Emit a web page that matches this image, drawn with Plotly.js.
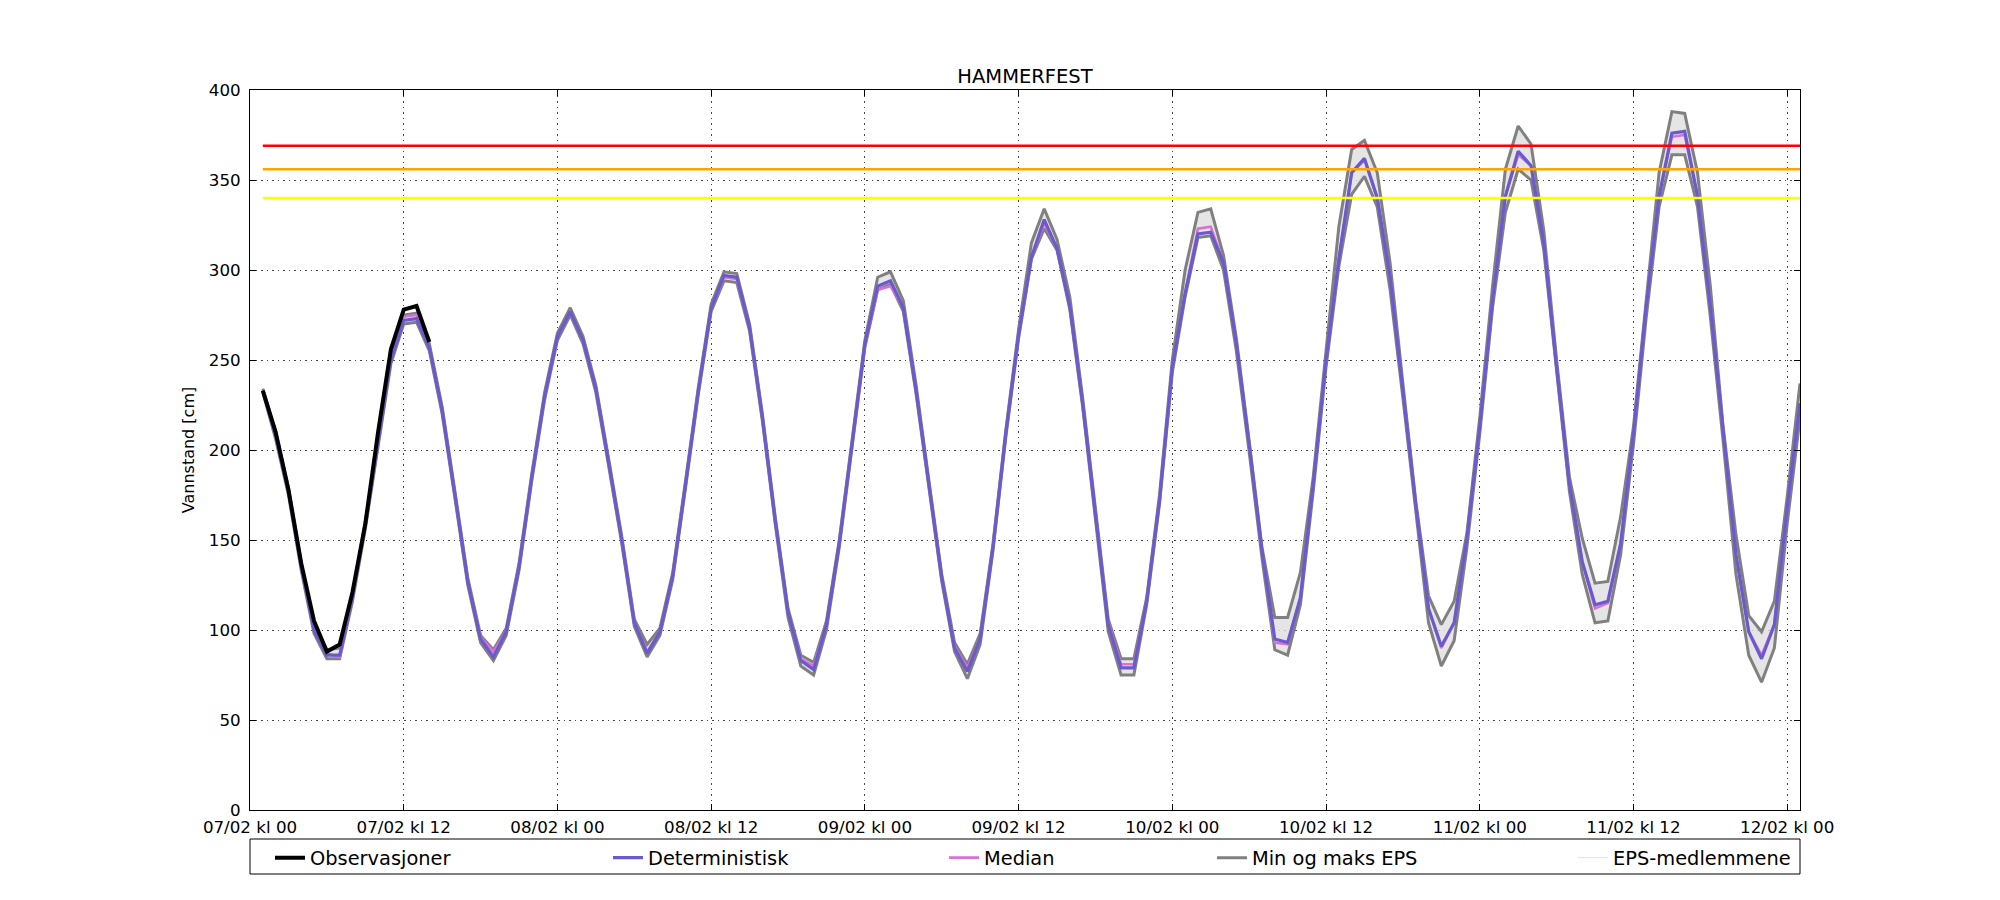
<!DOCTYPE html>
<html>
<head>
<meta charset="utf-8">
<script src="https://cdn.plot.ly/plotly-3.0.1.min.js"></script>
<style>
  html, body { margin: 0; padding: 0; background: #ffffff; }
  #chart { width: 2000px; height: 900px; }
</style>
</head>
<body>
<div id="chart"></div>
<script>
// ---- data (hours after 07/02 kl 00) ----
var tickHours  = [0, 12, 24, 36, 48, 60, 72, 84, 96, 108, 120];
var tickLabels = ["07/02 kl 00", "07/02 kl 12", "08/02 kl 00", "08/02 kl 12", "09/02 kl 00",
                  "09/02 kl 12", "10/02 kl 00", "10/02 kl 12", "11/02 kl 00", "11/02 kl 12", "12/02 kl 00"];

var obsHours = [1, 2, 3, 4, 5, 6, 7, 8, 9, 10, 11, 12, 13, 14];
var observasjoner = [233, 210, 178, 137, 105, 88, 92, 121, 159, 210, 256, 278, 280, 260];

var deterministisk = [
  233, 208, 177, 135, 100, 86, 86, 118, 158, 205, 250, 272, 273, 257, 222, 175, 127, 95, 85, 99,
  135, 185, 230, 263, 277, 261, 234, 193, 151, 104, 87, 99, 130, 181, 233, 279, 297, 296, 268, 218,
  161, 110, 83, 78, 103, 148, 203, 259, 291, 294, 279, 233, 181, 129, 90, 77, 95, 146, 209, 264,
  307, 328, 312, 280, 226, 164, 103, 79, 79, 116, 172, 246, 287, 320, 321, 304, 259, 203, 144, 95,
  93, 118, 181, 250, 306, 354, 362, 340, 296, 233, 170, 112, 91, 104, 151, 213, 283, 341, 366, 358,
  315, 246, 181, 138, 114, 116, 148, 209, 280, 341, 376, 377, 341, 280, 209, 142, 99, 84, 103, 168,
  226
];

var median = [
  233, 208, 177, 135, 101, 87, 85, 118, 158, 205, 250, 274, 275, 257, 222, 175, 127, 96, 88, 99,
  135, 185, 230, 263, 277, 261, 234, 193, 151, 104, 88, 99, 130, 181, 233, 279, 296, 295, 268, 218,
  161, 110, 84, 80, 103, 148, 203, 258, 289, 291, 279, 233, 181, 129, 91, 79, 95, 146, 209, 264,
  307, 326, 312, 280, 226, 164, 104, 81, 81, 116, 172, 246, 287, 323, 324, 304, 259, 203, 144, 93,
  92, 118, 181, 250, 306, 354, 361, 340, 296, 233, 170, 112, 90, 104, 151, 213, 283, 341, 364, 358,
  315, 246, 181, 138, 112, 115, 148, 209, 280, 341, 374, 375, 341, 280, 209, 142, 99, 86, 103, 168,
  226
];

var maksEPS = [
  234, 210, 179, 137, 102, 89, 90, 120, 160, 207, 252, 275, 276, 259, 224, 177, 129, 97, 89, 101,
  137, 187, 232, 265, 279, 263, 236, 195, 153, 106, 92, 101, 132, 183, 235, 281, 299, 298, 270, 220,
  163, 112, 86, 82, 105, 150, 205, 261, 296, 299, 283, 236, 183, 131, 93, 81, 98, 148, 211, 267,
  315, 334, 317, 285, 229, 166, 106, 84, 84, 118, 175, 250, 300, 332, 334, 308, 262, 205, 146, 107,
  107, 132, 185, 255, 324, 367, 372, 354, 304, 237, 172, 119, 103, 116, 154, 218, 291, 356, 380, 370,
  322, 250, 185, 151, 126, 127, 163, 213, 285, 354, 388, 387, 354, 291, 213, 153, 108, 99, 116, 174,
  237
];

var minEPS = [
  232, 206, 175, 133, 98, 84, 84, 116, 156, 203, 248, 270, 271, 255, 220, 173, 125, 93, 83, 97,
  133, 183, 228, 261, 275, 259, 232, 191, 149, 102, 85, 97, 128, 179, 231, 277, 294, 293, 266, 216,
  159, 107, 80, 75, 100, 146, 201, 257, 289, 292, 277, 231, 179, 127, 88, 73, 92, 144, 207, 262,
  306, 323, 311, 278, 224, 162, 99, 75, 75, 114, 170, 243, 285, 318, 319, 300, 255, 199, 140, 89,
  86, 114, 177, 246, 302, 342, 352, 335, 289, 229, 166, 104, 80, 94, 146, 209, 279, 332, 356, 350,
  311, 242, 177, 131, 104, 105, 142, 203, 274, 335, 364, 364, 335, 274, 205, 131, 86, 71, 90, 159,
  218
];

var thresholdValues = [369, 356, 340];
var thresholdColors = ["#ff0000", "#ffa500", "#ffff00"];

// ---- build ----
var fcHours = deterministisk.map(function (_, i) { return i + 1; });
var lineEnds = [fcHours[0], fcHours[fcHours.length - 1]];

var FONT = "DejaVu Sans, Liberation Sans, sans-serif";
var legendFont = { family: FONT, size: 19.4, color: "#000000" };

function legendBox(px) {
  return {
    x: (px - 250) / 1550, xanchor: "left", xref: "paper",
    y: -0.0667, yanchor: "middle", yref: "paper",
    orientation: "h", bgcolor: "rgba(0,0,0,0)", borderwidth: 0,
    font: legendFont
  };
}

var traces = [];

// EPS members envelope
traces.push({
  x: fcHours, y: maksEPS, type: "scatter", mode: "lines",
  name: "EPS-medlemmene", legend: "legend5",
  line: { color: "#e2e2e2", width: 1 }, hoverinfo: "skip"
});
traces.push({
  x: fcHours, y: minEPS, type: "scatter", mode: "lines",
  name: "EPS-medlemmene", showlegend: false, legend: "legend5",
  line: { color: "#e2e2e2", width: 1 },
  fill: "tonexty", fillcolor: "rgba(222,222,222,0.8)", hoverinfo: "skip"
});
// min & max
traces.push({
  x: fcHours, y: minEPS, type: "scatter", mode: "lines",
  name: "Min og maks EPS", legend: "legend4",
  line: { color: "#808080", width: 3 }
});
traces.push({
  x: fcHours, y: maksEPS, type: "scatter", mode: "lines",
  name: "Min og maks EPS", showlegend: false, legend: "legend4",
  line: { color: "#808080", width: 3 }
});
// median
traces.push({
  x: fcHours, y: median, type: "scatter", mode: "lines",
  name: "Median", legend: "legend3",
  line: { color: "#da70d6", width: 2.6 }
});
// deterministic
traces.push({
  x: fcHours, y: deterministisk, type: "scatter", mode: "lines",
  name: "Deterministisk", legend: "legend2",
  line: { color: "#6a5acd", width: 3.2 }
});
// observations
traces.push({
  x: obsHours, y: observasjoner, type: "scatter", mode: "lines",
  name: "Observasjoner", legend: "legend",
  line: { color: "#000000", width: 4 }
});
// thresholds
thresholdValues.forEach(function (v, i) {
  traces.push({
    x: lineEnds, y: [v, v], type: "scatter", mode: "lines",
    showlegend: false, hoverinfo: "skip",
    line: { color: thresholdColors[i], width: 2.6 }
  });
});

var axisCommon = {
  showline: true, linecolor: "#000000", linewidth: 1, mirror: "ticks",
  ticks: "inside", ticklen: 6, tickwidth: 1, tickcolor: "#000000",
  showgrid: true, gridcolor: "#444444", gridwidth: 1, griddash: "1.5px,4px",
  zeroline: false,
  tickfont: { family: FONT, size: 16.7, color: "#000000" }
};

var layout = {
  width: 2000, height: 900,
  paper_bgcolor: "#ffffff", plot_bgcolor: "#ffffff",
  margin: { l: 250, r: 200, t: 90, b: 90, pad: 0 },
  title: {
    text: "HAMMERFEST", x: 0.5, xref: "paper", xanchor: "center",
    y: 1 - 76 / 900, yref: "container", yanchor: "middle",
    font: { family: FONT, size: 19.5, color: "#000000" }
  },
  xaxis: Object.assign({}, axisCommon, {
    range: [0, 121], tickmode: "array", tickvals: tickHours, ticktext: tickLabels,
    ticklabelstandoff: 2
  }),
  yaxis: Object.assign({}, axisCommon, {
    range: [0, 400], tickmode: "array", tickvals: [0, 50, 100, 150, 200, 250, 300, 350, 400],
    ticklabelstandoff: 5,
    title: { text: "Vannstand [cm]", standoff: 10, font: { family: FONT, size: 16, color: "#000000" } }
  }),
  showlegend: true,
  legend: legendBox(270),
  legend2: legendBox(608),
  legend3: legendBox(944),
  legend4: legendBox(1212),
  legend5: legendBox(1573),
  shapes: [{
    type: "rect", xref: "paper", yref: "paper",
    x0: 0, x1: 1, y0: (810 - 874) / 720, y1: (810 - 839) / 720,
    line: { color: "#000000", width: 1 }, fillcolor: "rgba(0,0,0,0)", layer: "above"
  }]
};

Plotly.newPlot("chart", traces, layout, { staticPlot: true, displayModeBar: false });
</script>
</body>
</html>
